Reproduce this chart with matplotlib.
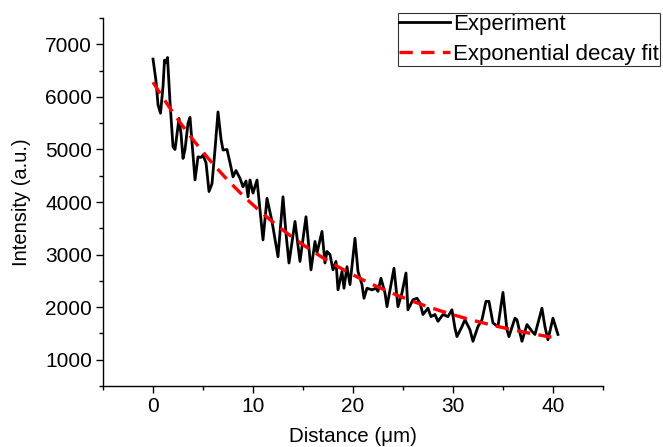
import matplotlib
matplotlib.use('Agg')
from matplotlib import pyplot as plt
from matplotlib.ticker import MultipleLocator
import numpy as np

plt.rcParams['font.family'] = ['Liberation Sans', 'DejaVu Sans']

# experiment trace
distance = [0.0, 0.3, 0.5, 0.75, 1.0, 1.15, 1.3, 1.45, 1.7, 2.0, 2.2, 2.6, 2.8, 3.0,
            3.2, 3.5, 3.7, 4.0, 4.2, 4.5, 4.8, 5.0, 5.3, 5.6, 5.9, 6.2, 6.5, 6.8,
            7.0, 7.4, 7.7, 8.0, 8.3, 8.7, 9.0, 9.3, 9.5, 9.7, 10.0, 10.4, 11.0,
            11.4, 11.9, 12.5, 13.0, 13.3, 13.6, 14.2, 14.7, 15.3, 15.8, 16.2,
            16.4, 16.9, 17.2, 17.4, 17.7, 18.0, 18.3, 18.5, 18.9, 19.1, 19.4,
            19.7, 20.2, 20.5, 20.9, 21.1, 21.4, 21.9, 22.3, 22.5, 22.8, 23.2,
            23.4, 24.1, 24.5, 24.9, 25.3, 25.5, 26.0, 26.4, 26.7, 27.0, 27.5,
            27.8, 28.2, 28.5, 29.0, 29.5, 29.9, 30.2, 30.4, 30.9, 31.2, 31.7,
            32.0, 32.5, 32.9, 33.3, 33.6, 34.0, 34.5, 35.0, 35.4, 35.6, 36.2,
            36.4, 36.9, 37.4, 37.9, 38.2, 38.9, 39.2, 39.5, 40.0, 40.5]
intensity = [6720, 6300, 5850, 5690, 6200, 6700, 6650, 6750, 5900, 5050, 5000, 5590,
             5300, 4830, 5000, 5500, 5610, 4900, 4420, 4860, 4850, 4890, 4750, 4200,
             4350, 5000, 5715, 5200, 4990, 5000, 4750, 4480, 4600, 4450, 4290, 4400,
             4100, 4420, 4170, 4420, 3280, 4070, 3630, 2960, 4100, 3400, 2840, 3630,
             2870, 3720, 2710, 3250, 3030, 3440, 2840, 3060, 3000, 2710, 2870, 2330,
             2680, 2360, 2770, 2430, 3310, 2680, 2430, 2170, 2360, 2330, 2360, 2300,
             2550, 2270, 2010, 2740, 2010, 2270, 2650, 1950, 2140, 2170, 2080, 1860,
             1980, 1820, 1860, 1730, 1860, 1820, 1950, 1600, 1440, 1630, 1760, 1570,
             1350, 1630, 1760, 2110, 2110, 1700, 1630, 2280, 1570, 1440, 1790, 1760,
             1350, 1670, 1540, 1480, 1980, 1630, 1380, 1790, 1480]

# exponential decay fit parameters: y = y0 + A*exp(-x/t)
fit_y0 = 850
fit_A = 5430
fit_t = 17.8

fig = plt.figure(figsize=(6.63, 4.47), dpi=100)
ax = fig.add_axes([0.1554, 0.1365, 0.754, 0.823])

ax.plot(distance, intensity, color='black', lw=2.0, label='Experiment', zorder=2)
xf = np.linspace(distance[0], distance[-1], 200)
ax.plot(xf, fit_y0 + fit_A * np.exp(-xf / fit_t), color='red', lw=2.4,
        dashes=(4, 2.5), label='Exponential decay fit', zorder=3)

ax.set_xlim(-5, 45)
ax.set_ylim(500, 7500)
ax.xaxis.set_major_locator(MultipleLocator(10))
ax.xaxis.set_minor_locator(MultipleLocator(5))
ax.yaxis.set_major_locator(MultipleLocator(1000))
ax.yaxis.set_minor_locator(MultipleLocator(500))
ax.spines['top'].set_visible(False)
ax.spines['right'].set_visible(False)
for s in ('left', 'bottom'):
    ax.spines[s].set_linewidth(1.0)
ax.tick_params(which='major', direction='out', length=5, width=1.0, labelsize=15, pad=3)
ax.tick_params(which='minor', direction='out', length=3, width=1.0)

ax.set_xlabel('Distance (\u03bcm)', fontsize=14.8, labelpad=7.5)
ax.set_ylabel('Intensity (a.u.)', fontsize=14.5, labelpad=10)

leg = ax.legend(loc='upper right', bbox_to_anchor=(0.996, 0.972),
                bbox_transform=fig.transFigure, fontsize=16, frameon=True,
                fancybox=False, borderaxespad=0, borderpad=0.05,
                handlelength=2.3, handletextpad=0.15, labelspacing=0.42)
leg.get_frame().set_edgecolor('black')
leg.get_frame().set_linewidth(0.8)

plt.savefig('out.png', dpi=100)
plt.close()
